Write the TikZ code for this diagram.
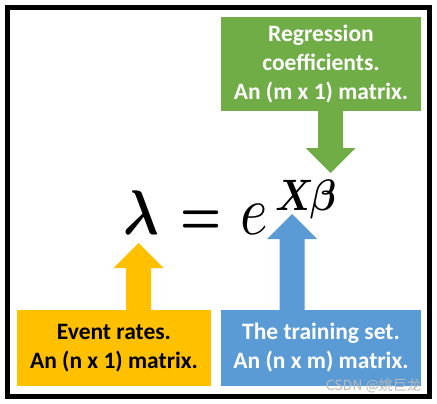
\documentclass[tikz,border=0pt]{standalone}
\usepackage{amsmath}
\usepackage[no-math]{fontspec}
\setmainfont{Carlito}
\newfontfamily\cjkfont{Noto Sans CJK SC}
\usetikzlibrary{calc}
\definecolor{ycol}{HTML}{FFC000}
\definecolor{bcol}{HTML}{5B9BD5}
\definecolor{gcol}{HTML}{70AD47}
\tikzset{
  infobox/.style={inner sep=0pt, align=center, font=\fontsize{23.5}{29}\selectfont\bfseries},
  glyph/.style={anchor=base west, inner sep=0pt},
}
\newcommand\blkarrow[4]{%
  \fill[#1] (#2) -- ($(#2)+(25,#4*25)$) -- ($(#2)+(12.5,#4*25)$)
    -- ($(#3 -| #2)+(12.5,0)$) -- ($(#3 -| #2)+(-12.5,0)$)
    -- ($(#2)+(-12.5,#4*25)$) -- ($(#2)+(-25,#4*25)$) -- cycle;}
\begin{document}
\begin{tikzpicture}[x=1pt,y=-1pt]
\useasboundingbox (0,0) rectangle (437,404);
\fill[white] (0,0) rectangle (437,404);
\draw[line width=5pt] (7.5,7.5) rectangle (429.5,396.5);
% boxes
\node[infobox, fill=ycol, text=black, minimum width=194pt, minimum height=76pt] (ybox) at (114,348) {Event rates.\\An (n x 1) matrix.};
\node[infobox, fill=bcol, text=white, minimum width=200pt, minimum height=76pt] (bbox) at (321,348) {The training set.\\An (n x m) matrix.};
\node[infobox, fill=gcol, text=white, minimum width=200pt, minimum height=94pt] (gbox) at (321,64) {Regression\\coefficients.\\An (m x 1) matrix.};
% equation
\node[glyph] (lam) at (123,234) {\scalebox{5.3}[6.3]{$\boldsymbol{\lambda}$}};
\node[glyph] (eqs) at (180,234) {\scalebox{4.6}[6]{$\boldsymbol{=}$}};
\node[glyph] (ebase) at (240,234) {\scalebox{5.9}[7]{$e$}};
\node[glyph] (expo) at (275,210) {\scalebox{3.8}[4.4]{$\boldsymbol{X}\mkern-2mu\boldsymbol{\beta}$}};
% arrow tips
\coordinate (ytip) at (138.5,243);
\coordinate (btip) at (292,214);
\coordinate (gtip) at (330.5,173);
\blkarrow{ycol}{ytip}{ybox.north}{1}
\blkarrow{bcol}{btip}{bbox.north}{1}
\blkarrow{gcol}{gtip}{gbox.south}{-1}
% watermark
\node[anchor=south east, inner sep=0pt, text=gray!55, font=\cjkfont\fontsize{14}{16}\selectfont] (wm) at (421,393) {CSDN @姚巨龙};
\end{tikzpicture}
\end{document}
